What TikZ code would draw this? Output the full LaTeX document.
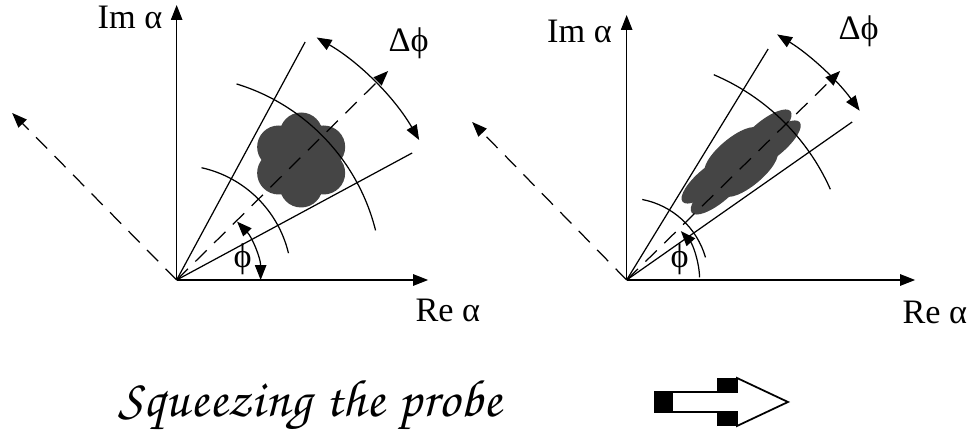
\documentclass[tikz,border=0pt]{standalone}
\usepackage{fontspec}
\setmainfont{Liberation Serif}
\newfontfamily\chancery[LetterSpace=1.5,WordSpace=1.15]{texgyrechorus-mediumitalic.otf}
\usetikzlibrary{arrows.meta}

\begin{document}
\begin{tikzpicture}[
    axis/.style={-{Triangle[length=8.5pt,width=6.5pt]}, line width=0.7pt},
    ray/.style={line width=0.7pt},
    guide/.style={-{Triangle[length=8.5pt,width=6.5pt]}, line width=0.7pt, dash pattern=on 9pt off 6pt},
    band/.style={line width=0.7pt},
    spread/.style={{Triangle[length=8.5pt,width=6.5pt]}-{Triangle[length=8.5pt,width=6.5pt]}, line width=0.7pt},
    lbl/.style={font=\fontsize{19.5}{22}\selectfont, inner sep=0pt},
    blob/.style={fill=black!73, draw=none}
]
    \useasboundingbox (0,0) rectangle (19.48,8.64);

    % Coherent probe
    \begin{scope}[shift={(3.533,3.04)}]
        \coordinate (o1) at (0,0);
        \coordinate (im1) at (0,5.5);
        \coordinate (re1) at (5.03,0);
        \coordinate (perp1) at (-3.29,3.34);
        \coordinate (up1) at (2.57,4.76);
        \coordinate (lo1) at (4.71,2.54);
        \coordinate (mid1) at (4.23,4.18);

        % State
        \begin{scope}[shift={(2.49,2.4)}]
            \fill[blob] (0,0) circle (0.5);
            \foreach \a in {30,90,...,330}
                \fill[blob] (\a:0.52) circle (0.43);
        \end{scope}

        % Axes and rays
        \draw[axis] (o1) -- (im1);
        \draw[axis] (o1) -- (re1);
        \draw[guide] (o1) -- (perp1);
        \draw[guide] (o1) -- (mid1);
        \draw[ray] (o1) -- (up1);
        \draw[ray] (o1) -- (lo1);

        % Arcs
        \draw[band] (77.5:2.3) arc[start angle=77.5, end angle=13.5, radius=2.3];
        \draw[band] (73:4.1) arc[start angle=73, end angle=14, radius=4.1];
        \draw[spread] (60:5.6) arc[start angle=60, end angle=30, radius=5.6];
        \draw[spread] (0:1.68) arc[start angle=0, end angle=44, radius=1.68];

        % Labels
        \node[lbl, anchor=east] (imlbl1) at (-0.28,5.25) {Im α};
        \node[lbl, anchor=west] (relbl1) at (4.77,-0.6) {Re α};
        \node[lbl, anchor=base west] (dphi1) at (4.23,4.56) {Δϕ};
        \node[lbl, anchor=base west] (phi1) at (1.13,0.24) {ϕ};
    \end{scope}

    % Squeezed probe
    \begin{scope}[shift={(12.533,3.04)}]
        \coordinate (o2) at (0,0);
        \coordinate (im2) at (0,5.3);
        \coordinate (re2) at (5.77,0);
        \coordinate (perp2) at (-3.09,3.16);
        \coordinate (up2) at (2.83,4.62);
        \coordinate (lo2) at (4.51,3.16);
        \coordinate (mid2) at (4.27,4.18);

        % State
        \begin{scope}[shift={(2.29,2.36)}, rotate=40, xscale=1.6, yscale=0.55]
            \fill[blob] (0,0) circle (0.5);
            \foreach \a in {30,90,...,330}
                \fill[blob] (\a:0.52) circle (0.43);
        \end{scope}

        % Axes and rays
        \draw[axis] (o2) -- (im2);
        \draw[axis] (o2) -- (re2);
        \draw[guide] (o2) -- (perp2);
        \draw[guide] (o2) -- (mid2);
        \draw[ray] (o2) -- (up2);
        \draw[ray] (o2) -- (lo2);

        % Arcs
        \draw[band] (79:1.64) arc[start angle=79, end angle=16, radius=1.64];
        \draw[band] (67:4.46) arc[start angle=67, end angle=24, radius=4.46];
        \draw[spread] (58.5:5.76) arc[start angle=58.5, end angle=36, radius=5.76];
        \draw[axis] (2:1.46) arc[start angle=2, end angle=42, radius=1.46];

        % Labels
        \node[lbl, anchor=east] (imlbl2) at (-0.29,4.98) {Im α};
        \node[lbl, anchor=west] (relbl2) at (5.51,-0.64) {Re α};
        \node[lbl, anchor=base west] (dphi2) at (4.23,4.8) {Δϕ};
        \node[lbl, anchor=base west] (phi2) at (0.87,0.24) {ϕ};
    \end{scope}

    % Caption
    \node[anchor=base west, inner sep=0pt, font=\fontsize{30}{34}\chancery] (caption) at (2.36,0.3) {Squeezing the probe};

    % Block arrow
    \fill[white, draw=black, line width=1pt] (13.1,0.4) -- (14.74,0.4) -- (14.74,0.12) -- (15.76,0.6)
        -- (14.74,1.08) -- (14.74,0.8) -- (13.1,0.8) -- cycle;
    \fill (13.1,0.4) rectangle (13.46,0.8);
    \fill (14.34,0.78) rectangle (14.74,1.08);
    \fill (14.34,0.12) rectangle (14.74,0.42);
\end{tikzpicture}
\end{document}
